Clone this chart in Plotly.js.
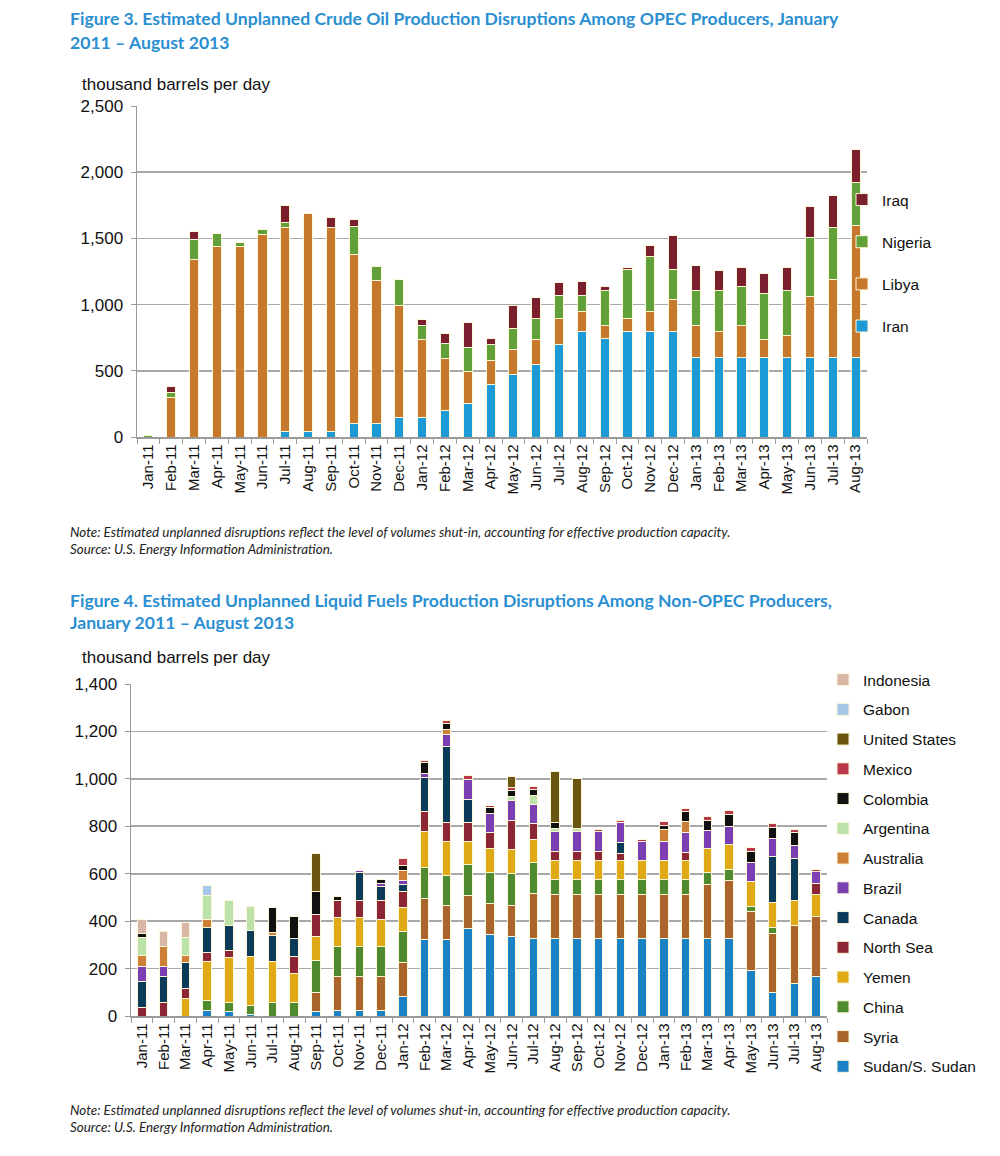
<!DOCTYPE html>
<html>
<head>
<meta charset="utf-8">
<script src="https://cdn.plot.ly/plotly-3.0.1.min.js"></script>
<style>
html,body{margin:0;padding:0;background:#fff;}
#chart{width:1000px;height:1156px;}
</style>
</head>
<body>
<div id="chart"></div>
<script>
// ---- Categories ----
const months = ["Jan-11","Feb-11","Mar-11","Apr-11","May-11","Jun-11","Jul-11","Aug-11","Sep-11","Oct-11","Nov-11","Dec-11",
  "Jan-12","Feb-12","Mar-12","Apr-12","May-12","Jun-12","Jul-12","Aug-12","Sep-12","Oct-12","Nov-12","Dec-12",
  "Jan-13","Feb-13","Mar-13","Apr-13","May-13","Jun-13","Jul-13","Aug-13"];

// ---- Figure 3: OPEC (thousand barrels per day) ----
const iran    = [0,0,0,0,0,0,45,45,45,100,100,150,150,200,250,400,470,545,700,800,745,800,800,800,600,600,600,600,600,600,600,600];
const libya   = [0,300,1340,1440,1440,1530,1540,1645,1535,1280,1085,842,587,390,245,180,192,192,195,145,95,95,145,240,240,195,240,140,170,460,590,1000];
const nigeria = [15,35,150,100,30,37,35,0,0,207,100,200,105,113,180,115,155,155,170,120,270,370,420,225,270,312,295,345,337,448,395,320];
const iraq    = [0,45,60,0,0,0,130,0,75,55,0,0,45,80,190,50,178,158,100,108,30,18,80,255,188,148,148,148,173,232,238,250];

// ---- Figure 4: Non-OPEC (thousand barrels per day) ----
const sudan     = [0,0,0,24,17,5,0,0,17,24,24,24,83,322,322,369,343,336,326,326,326,326,326,326,326,326,326,326,190,101,136,165];
const syria     = [0,0,0,0,0,0,0,0,84,141,141,141,141,173,142,140,131,131,190,188,188,188,188,188,188,188,230,246,249,247,247,253];
const china     = [0,0,0,42,38,40,59,56,131,126,129,129,131,130,130,130,130,134,130,61,61,61,61,61,61,61,48,46,24,25,0,0];
const yemen     = [0,0,73,162,190,207,172,123,104,124,121,113,101,152,140,95,102,101,98,82,82,82,79,82,82,82,102,105,103,104,102,96];
const northSea  = [34,55,42,38,32,0,0,70,92,70,70,78,70,87,81,81,66,124,68,35,35,35,31,0,0,31,0,0,0,0,0,45];
const canada    = [110,110,109,107,106,108,109,77,0,0,119,60,28,142,320,100,0,0,0,0,0,0,47,0,0,0,0,0,0,196,179,0];
const brazil    = [63,45,0,0,0,0,0,0,0,0,11,14,19,17,50,83,82,81,81,85,85,85,83,77,77,84,78,78,80,76,53,49];
const australia = [48,84,32,34,0,0,14,0,0,0,0,0,39,0,25,0,0,0,0,0,0,0,0,0,52,47,0,0,0,0,0,0];
const argentina = [74,0,77,102,102,100,0,0,0,0,0,0,0,0,0,0,0,20,38,14,14,0,0,0,0,0,0,0,0,0,0,0];
const colombia  = [18,0,0,0,0,0,102,95,98,20,0,17,24,45,24,0,24,25,25,23,0,0,0,0,19,42,42,49,46,46,57,0];
const mexico    = [0,0,0,0,0,0,0,0,0,0,0,0,28,11,11,18,11,10,10,0,0,11,11,11,14,15,14,15,17,17,14,10];
const unitedStates = [0,0,0,0,0,0,0,0,159,0,0,0,0,0,0,0,0,50,0,215,210,0,0,0,0,0,0,0,0,0,0,0];
const gabon     = [0,0,0,40,0,0,0,0,0,0,0,0,0,0,0,0,0,0,0,0,0,0,0,0,0,0,0,0,0,0,0,0];
const indonesia = [61,61,60,0,0,0,0,0,0,0,0,0,0,0,0,0,0,0,0,0,0,0,0,0,0,0,0,0,0,0,0,0];

// ---- Text ----
const yTitle = "thousand barrels per day";
const fig3Title = ["Figure 3. Estimated Unplanned Crude Oil Production Disruptions Among OPEC Producers, January","2011 – August 2013"];
const fig4Title = ["Figure 4. Estimated Unplanned Liquid Fuels Production Disruptions Among Non-OPEC Producers,","January 2011 – August 2013"];
const noteText = "Note: Estimated unplanned disruptions reflect the level of volumes shut-in, accounting for effective production capacity.";
const sourceText = "Source: U.S. Energy Information Administration.";

const W = 1000, H = 1156;
const px = v => v / W;
const py = v => 1 - v / H;
const nz = arr => arr.map(v => v === 0 ? null : v);
const edge = {color:'#fdf6d8', width:1};

const fig3Series = [
  {name:'Iran', y:iran, c:'#1b9ad6'},
  {name:'Libya', y:libya, c:'#c6792c'},
  {name:'Nigeria', y:nigeria, c:'#62a03a'},
  {name:'Iraq', y:iraq, c:'#7a1f2d'}
];
const fig4Series = [
  {name:'Sudan/S. Sudan', y:sudan, c:'#1a82c4'},
  {name:'Syria', y:syria, c:'#a9652b'},
  {name:'China', y:china, c:'#4f8a2f'},
  {name:'Yemen', y:yemen, c:'#e0a916'},
  {name:'North Sea', y:northSea, c:'#8c2535'},
  {name:'Canada', y:canada, c:'#0c3b59'},
  {name:'Brazil', y:brazil, c:'#7a3fb2'},
  {name:'Australia', y:australia, c:'#cc7f36'},
  {name:'Argentina', y:argentina, c:'#bbe2a8'},
  {name:'Colombia', y:colombia, c:'#111111'},
  {name:'Mexico', y:mexico, c:'#b8374a'},
  {name:'United States', y:unitedStates, c:'#6b5513'},
  {name:'Gabon', y:gabon, c:'#a6c7e8'},
  {name:'Indonesia', y:indonesia, c:'#d9b7a7'}
];

const traces = [];
fig3Series.forEach((s, i) => traces.push({
  type:'bar', x:months, y:nz(s.y), name:s.name, xaxis:'x', yaxis:'y',
  marker:{color:s.c, line:edge}, legend:'legend', legendgroup:'a'+s.name, legendrank:100 - i, hoverinfo:'x+y+name'
}));
fig4Series.forEach((s, i) => traces.push({
  type:'bar', x:months, y:nz(s.y), name:s.name, xaxis:'x2', yaxis:'y2',
  marker:{color:s.c, line:edge}, legend:'legend2', legendgroup:'b'+s.name, legendrank:100 - i, hoverinfo:'x+y+name'
}));

const tickFont = {family:'Liberation Sans, Arial, sans-serif', size:15, color:'#111'};
const yFont = {family:'Liberation Sans, Arial, sans-serif', size:17, color:'#111'};
const gridC = '#a8a8a8';

const xBase = {
  type:'category', tickangle:-90, tickfont:tickFont, showline:true, linecolor:'#9a9a9a', linewidth:1.5,
  ticks:'outside', tickson:'boundaries', ticklen:5, tickcolor:'#9a9a9a', showgrid:false, fixedrange:true
};
const yBase = {
  tickfont:yFont, showline:true, linecolor:'#9a9a9a', linewidth:1.5, ticks:'outside', ticklen:5,
  tickcolor:'#9a9a9a', gridcolor:gridC, gridwidth:1.6, zeroline:false, tickformat:',d', fixedrange:true,
  ticklabelstandoff:4
};

const titleFont = {family:'Lato, Open Sans, sans-serif', size:17.6, color:'#2b8fd1', weight:'bold'};
const noteFont = {family:'Lato, Open Sans, sans-serif', size:13.4, color:'#222', style:'italic'};
const ann = (text, x, y, font) => ({text, x:px(x), y:py(y), xref:'paper', yref:'paper', xanchor:'left', yanchor:'middle', showarrow:false, font});

const layout = {
  width:W, height:H, margin:{l:0,r:0,t:0,b:0}, paper_bgcolor:'#fff', plot_bgcolor:'#fff',
  barmode:'stack', bargap:0.6, showlegend:true,
  xaxis: Object.assign({}, xBase, {domain:[px(137), px(867)], anchor:'y'}),
  yaxis: Object.assign({}, yBase, {domain:[py(437), py(106)], range:[0,2500], dtick:500, anchor:'x'}),
  xaxis2: Object.assign({}, xBase, {domain:[px(131), px(827)], anchor:'y2'}),
  yaxis2: Object.assign({}, yBase, {domain:[py(1016), py(684)], range:[0,1400], dtick:200, anchor:'x2'}),
  legend: {x:px(842), y:py(183), xanchor:'left', yanchor:'top', traceorder:'grouped', tracegroupgap:19,
    font:{family:'Liberation Sans, Arial, sans-serif', size:15.5, color:'#111'}, bgcolor:'rgba(0,0,0,0)', itemwidth:30},
  legend2: {x:px(823), y:py(663), xanchor:'left', yanchor:'top', traceorder:'grouped', tracegroupgap:6.6,
    font:{family:'Liberation Sans, Arial, sans-serif', size:15.5, color:'#111'}, bgcolor:'rgba(0,0,0,0)', itemwidth:30},
  annotations: [
    ann(fig3Title[0], 68, 18, titleFont),
    ann(fig3Title[1], 68, 43, titleFont),
    ann(yTitle, 80, 85, yFont),
    ann(noteText, 68, 532, noteFont),
    ann(sourceText, 68, 549, noteFont),
    ann(fig4Title[0], 68, 600, titleFont),
    ann(fig4Title[1], 68, 622, titleFont),
    ann(yTitle, 80, 658, yFont),
    ann(noteText, 68, 1110, noteFont),
    ann(sourceText, 68, 1127, noteFont)
  ]
};

Plotly.newPlot('chart', traces, layout, {displayModeBar:false, staticPlot:true});
</script>
</body>
</html>
